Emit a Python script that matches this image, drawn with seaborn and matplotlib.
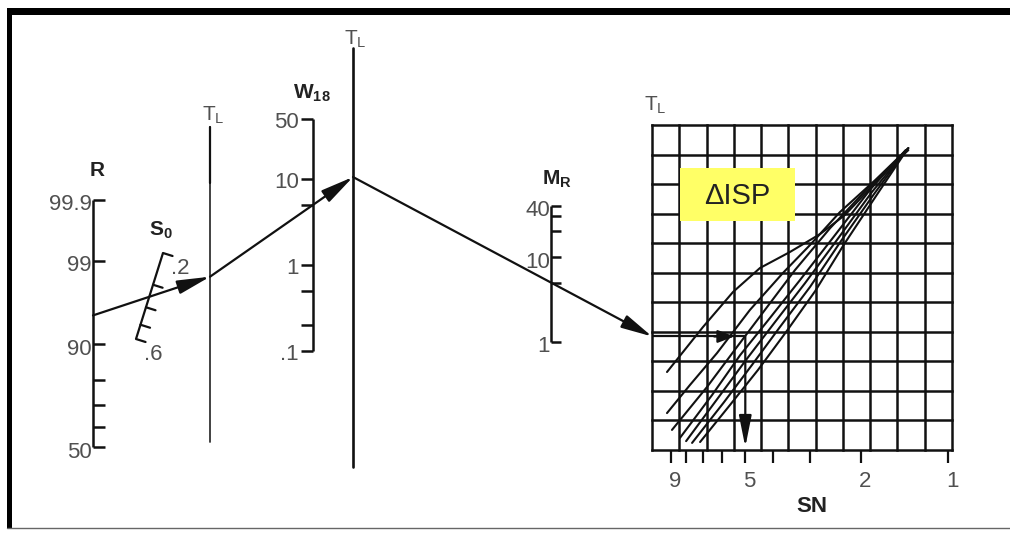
"""
Nomograph: R / S0 / TL / W18 / MR -> delta-ISP chart (SN)
"""

import math
from statistics import NormalDist

import numpy as np
import matplotlib
matplotlib.use("Agg")
import matplotlib.pyplot as plt
from matplotlib.patches import Rectangle
from matplotlib.ticker import NullLocator
from matplotlib.transforms import ScaledTranslation
import seaborn as sns

# ---- scales ----
r_ticks = [99.9, 99, 90, 80, 70, 60, 50]
r_tick_labels = ["99.9", "99", "90", "", "", "", "50"]
s0_ticks = [0.2, 0.3, 0.4, 0.5, 0.6]
s0_tick_labels = [".2", "", "", "", ".6"]
w18_ticks = [50, 10, 5, 1, 0.5, 0.2, 0.1]
w18_tick_labels = ["50", "10", "", "1", "", "", ".1"]
mr_ticks = [40, 30, 20, 10, 5, 1]
mr_tick_labels = ["40", "", "", "10", "", "1"]
sn_ticks = [9, 8, 7, 6, 5, 4, 3, 2, 1]
sn_tick_labels = ["9", "", "", "", "5", "", "", "2", "1"]

# worked example drawn on the chart
r_value = 95
s0_value = 0.35
w18_value = 5
mr_value = 5
sn_value = 5

# delta-ISP curves: SN against grid row (0 = bottom line, 11 = top line)
curve_a_sn = [9.31, 7.0, 5.51, 4.45, 3.51, 2.76, 2.27, 1.78, 1.37]
curve_a_row = [2.64, 4.16, 5.35, 6.16, 6.70, 7.31, 7.95, 9.04, 10.22]
curve_b_sn = [9.31, 7.76, 6.26, 4.82, 3.71, 2.99, 2.36, 1.78, 1.37]
curve_b_row = [1.25, 2.20, 3.28, 4.74, 5.99, 6.94, 8.05, 9.14, 10.22]
curve_c_sn = [8.95, 6.78, 5.34, 4.28, 3.37, 2.55, 1.86, 1.37]
curve_c_row = [0.68, 2.13, 3.49, 4.74, 6.09, 7.51, 8.93, 10.15]
curve_d_sn = [8.40, 6.51, 5.21, 4.11, 3.24, 2.45, 1.86, 1.40]
curve_d_row = [0.41, 1.86, 3.21, 4.47, 5.75, 7.28, 8.80, 10.15]
curve_e_sn = [8.00, 6.21, 4.97, 3.95, 3.11, 2.39, 1.83, 1.40]
curve_e_row = [0.30, 1.76, 3.05, 4.33, 5.65, 7.17, 8.73, 10.12]
curve_f_sn = [7.63, 5.92, 4.74, 3.80, 2.99, 2.34, 1.80, 1.41]
curve_f_row = [0.24, 1.62, 2.88, 4.16, 5.52, 7.07, 8.66, 10.08]
curve_g_sn = [7.16, 5.65, 4.52, 3.62, 2.87, 2.28, 1.77, 1.41]
curve_g_row = [0.27, 1.52, 2.71, 3.99, 5.38, 6.97, 8.60, 10.05]

# ---- layout (pixels) ----
W, H = 1010, 533
R_X, R_Y50, R_PX_Z = 93, 447, 80
S0_TOP, S0_BOT = np.array([163.0, 253.0]), np.array([136.0, 339.0])
TL1_X, TL1_Y = 210, (127, 442)
W18_X, W18_Y1, W18_PX_DEC = 313, 265, 86
TL2_X, TL2_Y = 353, (48, 467)
MR_X, MR_Y1, MR_PX_DEC = 551, 342, 85
GRID_X, GRID_Y = (652, 952), (125, 450)
SN_X1, SN_PX_DEC = 948, 290
N_COLS, N_ROWS = 11, 11

INK = "#111111"
TICK_TXT = "#505050"
LABEL_TXT = "#222222"


def r_y(v):
    return R_Y50 - R_PX_Z * NormalDist().inv_cdf(v / 100)


def w18_y(v):
    return W18_Y1 - W18_PX_DEC * math.log10(v)


def mr_y(v):
    return MR_Y1 - MR_PX_DEC * math.log10(v)


def s0_xy(v):
    lo, hi = math.log10(s0_ticks[0]), math.log10(s0_ticks[-1])
    f = (math.log10(v) - lo) / (hi - lo)
    return S0_TOP + f * (S0_BOT - S0_TOP)


def extend(p, q, x):
    t = (x - p[0]) / (q[0] - p[0])
    return (x, p[1] + t * (q[1] - p[1]))


def arrow(a, p, q, lw=1.6, hl=2.0, hw=0.45, **kw):
    a.annotate("", xy=q, xytext=p,
               arrowprops=dict(arrowstyle=f"-|>,head_length={hl},head_width={hw}",
                               color=INK, lw=lw, shrinkA=0, shrinkB=0,
                               mutation_scale=10), **kw)


sns.set_theme(style="white")
plt.rcParams["font.family"] = ["Liberation Sans", "DejaVu Sans"]
plt.rcParams["mathtext.fontset"] = "custom"
plt.rcParams["mathtext.rm"] = "Liberation Sans"
plt.rcParams["mathtext.bf"] = "Liberation Sans:bold"
plt.rcParams["mathtext.it"] = "Liberation Sans:italic"

fig = plt.figure(figsize=(W / 100, H / 100), dpi=100)
fig.patch.set_facecolor("white")
ax = fig.add_axes([0, 0, 1, 1])
ax.set_xlim(0, W)
ax.set_ylim(H, 0)
ax.axis("off")

# frame
ax.add_patch(Rectangle((7, 8), W - 7, 7, color="black", lw=0))
ax.add_patch(Rectangle((7, 8), 5, 520, color="black", lw=0))
ax.plot([7, W], [527.5, 527.5], color="#666666", lw=1)

# R scale
ry = [r_y(v) for v in r_ticks]
ax.plot([R_X, R_X], [min(ry), max(ry)], color=INK, lw=1.8, solid_capstyle="butt")
ax.hlines(ry, R_X, R_X + 12, color=INK, lw=1.8)
for y, lab in zip(ry, r_tick_labels):
    if lab:
        ax.text(R_X - 1, y + 5, lab, ha="right", va="center", fontsize=16, color=TICK_TXT)
ax.text(R_X + 4, 170, "R", ha="center", va="center", fontsize=15,
        fontweight="bold", color=LABEL_TXT)

# S0 scale (tilted)
ax.plot([S0_TOP[0], S0_BOT[0]], [S0_TOP[1], S0_BOT[1]], color=INK, lw=1.6,
        solid_capstyle="butt")
d = (S0_BOT - S0_TOP) / np.linalg.norm(S0_BOT - S0_TOP)
n = np.array([d[1], -d[0]])
for v, lab in zip(s0_ticks, s0_tick_labels):
    p = s0_xy(v)
    ax.plot([p[0], p[0] + 10 * n[0]], [p[1], p[1] + 10 * n[1]], color=INK, lw=1.6)
    if lab:
        ax.text(p[0] + 17, p[1] + 16, lab, ha="center", va="center", fontsize=16,
                color=TICK_TXT)
ax.text(161, 230, r"$\mathbf{S_0}$", ha="center", va="center", fontsize=15,
        color=LABEL_TXT)

# TL lines
ax.plot([TL1_X, TL1_X], TL1_Y, color="#333333", lw=1.3)
ax.plot([TL1_X, TL1_X], [TL1_Y[0], TL1_Y[0] + 56], color=INK, lw=1.6)
ax.text(TL1_X + 3, 115, r"$\mathrm{T_L}$", ha="center", va="center", fontsize=15,
        color=TICK_TXT)
ax.plot([TL2_X, TL2_X], TL2_Y, color=INK, lw=1.9)
ax.text(TL2_X + 2, 39, r"$\mathrm{T_L}$", ha="center", va="center", fontsize=15,
        color=TICK_TXT)

# W18 scale
wy = [w18_y(v) for v in w18_ticks]
ax.plot([W18_X, W18_X], [min(wy), max(wy)], color=INK, lw=1.8, solid_capstyle="butt")
ax.hlines(wy, W18_X - 12, W18_X, color=INK, lw=1.8)
for y, lab in zip(wy, w18_tick_labels):
    if lab:
        ax.text(W18_X - 14, y + 4, lab, ha="right", va="center", fontsize=16,
                color=TICK_TXT)
ax.text(W18_X - 1, 93, r"$\mathbf{W_{18}}$", ha="center", va="center", fontsize=15,
        color=LABEL_TXT)

# MR scale
my = [mr_y(v) for v in mr_ticks]
ax.plot([MR_X, MR_X], [min(my), max(my)], color=INK, lw=1.8, solid_capstyle="butt")
ax.hlines(my, MR_X, MR_X + 10, color=INK, lw=1.8)
for y, lab in zip(my, mr_tick_labels):
    if lab:
        ax.text(MR_X - 1, y + 5, lab, ha="right", va="center", fontsize=16,
                color=TICK_TXT)
ax.text(MR_X + 6, 179, r"$\mathbf{M_R}$", ha="center", va="center", fontsize=15,
        color=LABEL_TXT)

# worked path across the scales
p_r = (R_X, r_y(r_value))
p_t1 = extend(p_r, s0_xy(s0_value), TL1_X)
p_t2 = extend(p_t1, (W18_X, w18_y(w18_value)), TL2_X)
p_c = extend(p_t2, (MR_X, mr_y(mr_value)), GRID_X[0])
arrow(ax, p_r, p_t1, hl=2.0, hw=0.42)
arrow(ax, p_t1, p_t2, hl=2.0, hw=0.42)
arrow(ax, p_t2, p_c, hl=1.9, hw=0.42)

# delta-ISP chart
gx0, gx1 = GRID_X
gy0, gy1 = GRID_Y
cax = fig.add_axes([gx0 / W, 1 - gy1 / H, (gx1 - gx0) / W, (gy1 - gy0) / H])
sn_left = 10 ** ((SN_X1 - gx0) / SN_PX_DEC)
sn_right = 10 ** ((SN_X1 - gx1) / SN_PX_DEC)
cax.set_xscale("log")
cax.set_xlim(sn_left, sn_right)
cax.set_ylim(0, N_ROWS)
cax.patch.set_alpha(0)
for s in cax.spines.values():
    s.set_visible(False)
for i in range(N_COLS + 1):
    cax.plot([i / N_COLS] * 2, [0, 1], transform=cax.transAxes, color=INK, lw=1.8,
             clip_on=False, solid_capstyle="projecting")
for j in range(N_ROWS + 1):
    cax.plot([0, 1], [j / N_ROWS] * 2, transform=cax.transAxes, color=INK, lw=1.8,
             clip_on=False, solid_capstyle="projecting")
cax.set_xticks(sn_ticks)
cax.set_xticklabels(sn_tick_labels)
cax.xaxis.set_minor_locator(NullLocator())
cax.set_yticks([])
cax.tick_params(axis="x", bottom=True, direction="out", length=9, width=1.6,
                color=INK, pad=6, labelsize=16, labelcolor=TICK_TXT)
shift = ScaledTranslation(4 / 100, 0, fig.dpi_scale_trans)
for lbl in cax.get_xticklabels():
    lbl.set_transform(lbl.get_transform() + shift)
cax.grid(False)

curves = [(curve_a_sn, curve_a_row), (curve_b_sn, curve_b_row),
          (curve_c_sn, curve_c_row), (curve_d_sn, curve_d_row),
          (curve_e_sn, curve_e_row), (curve_f_sn, curve_f_row),
          (curve_g_sn, curve_g_row)]
for cs, cr in curves:
    cax.plot(cs, cr, color=INK, lw=1.5, solid_capstyle="round")

row_tl = cax.transData.inverted().transform(ax.transData.transform(p_c))[1]
cax.plot([sn_left, sn_value], [row_tl, row_tl], color=INK, lw=1.6)
arrow(cax, (6.4, row_tl), (5.45, row_tl), hl=1.0, hw=0.38)
arrow(cax, (sn_value, row_tl), (sn_value, 0.1), hl=1.9, hw=0.38)

cax.add_patch(Rectangle((680, 168), 115, 53, transform=ax.transData,
                        fc="#ffff66", ec="none", zorder=3))
cax.text(737, 196, "\u0394ISP", transform=ax.transData, ha="center", va="center",
         fontsize=21, color=LABEL_TXT, zorder=4)

ax.text(655, 105, r"$\mathrm{T_L}$", ha="center", va="center", fontsize=15,
        color=TICK_TXT)
ax.text(812, 507, "SN", ha="center", va="center", fontsize=16, fontweight="bold",
        color=LABEL_TXT)

fig.savefig("out.png", dpi=100)
plt.close(fig)
